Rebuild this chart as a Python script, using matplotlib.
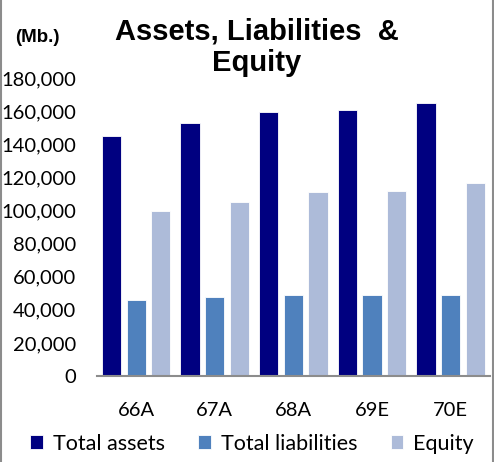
import matplotlib.pyplot as plt
import numpy as np
from matplotlib.lines import Line2D
from matplotlib.ticker import FuncFormatter

years = ["66A", "67A", "68A", "69E", "70E"]
total_assets = [144800, 152700, 159300, 160500, 165100]
total_liabilities = [45900, 47700, 48900, 48900, 48900]
equity = [99700, 105100, 111000, 112000, 116600]

fig = plt.figure(figsize=(4.94, 4.62), dpi=100)
ax = fig.add_axes([0.196, 0.186, 0.796, 0.645])

x = np.arange(len(years))
w = 0.245
step = 0.314
ax.bar(x - step, total_assets, w, color="#000080", edgecolor="white", linewidth=0.6, label="Total assets")
ax.bar(x, total_liabilities, w, color="#4F81BD", edgecolor="white", linewidth=0.6, label="Total liabilities")
ax.bar(x + step, equity, w, color="#ADBBD9", edgecolor="white", linewidth=0.6, label="Equity")

ax.set_xlim(-0.5, 4.5)
ax.set_ylim(0, 180000)
ax.set_yticks(np.arange(0, 180001, 20000))
ax.yaxis.set_major_formatter(FuncFormatter(lambda v, p: f"{int(v):,}"))
ax.set_xticks(x)
ax.set_xticklabels(years)
for s in ["top", "right", "left"]:
    ax.spines[s].set_visible(False)
ax.spines["bottom"].set_color("#8c8c8c")
ax.spines["bottom"].set_linewidth(1.5)
ax.tick_params(axis="both", length=0, labelsize=14.5)
for t in ax.get_xticklabels() + ax.get_yticklabels():
    t.set_family("Lato")
ax.tick_params(axis="y", pad=15)
ax.tick_params(axis="x", pad=19)

fig.text(0.52, 0.897, "Assets, Liabilities  &\nEquity", ha="center", va="center",
         fontsize=21, fontweight="bold", family="Liberation Sans", linespacing=1.17)
fig.text(0.03, 0.918, "(Mb.)", ha="left", va="center", fontsize=13.5,
         fontweight="bold", family="Liberation Sans")

leg = fig.legend(loc="center", bbox_to_anchor=(0.51, 0.04), ncol=3, frameon=False,
                 prop={"family": "Lato", "size": 15.5}, handlelength=0.6, handleheight=0.6,
                 handletextpad=0.45, columnspacing=1.55)

fig.add_artist(Line2D([0.002, 0.002], [0, 1], transform=fig.transFigure, color="#8c8c8c", linewidth=1.5))
fig.add_artist(Line2D([0.997, 0.997], [0, 1], transform=fig.transFigure, color="#8c8c8c", linewidth=1.5))

fig.savefig("out.png", dpi=100)
